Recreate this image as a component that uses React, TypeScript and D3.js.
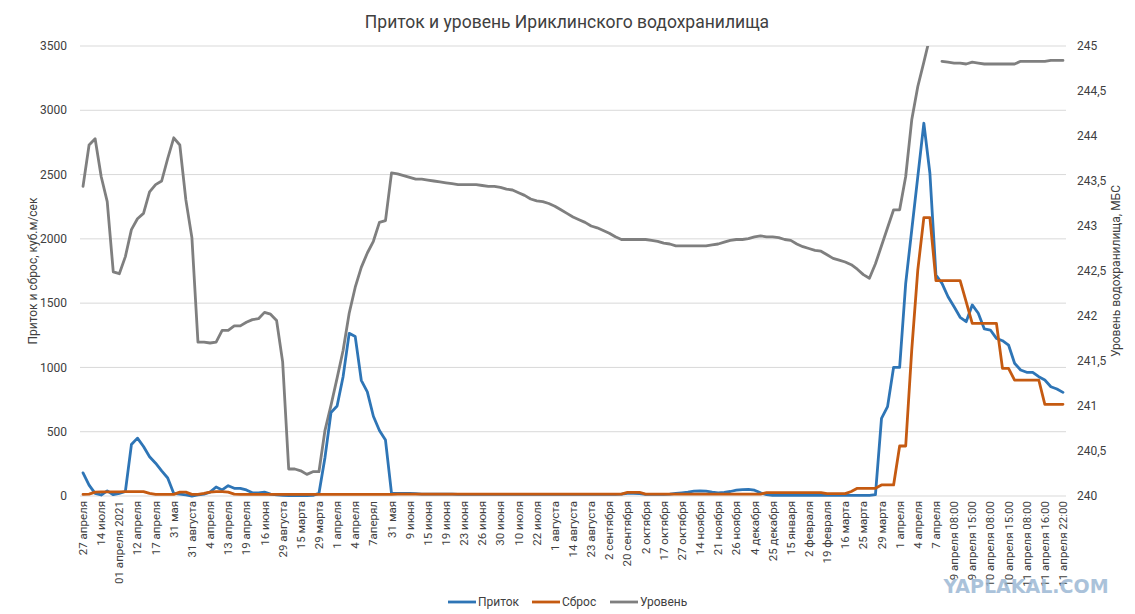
import { useEffect, useRef } from "react";
import * as d3 from "d3";

const title = "Приток и уровень Ириклинского водохранилища";
const leftTitle = "Приток и сброс, куб.м/сек";
const rightTitle = "Уровень водохранилища, МБС";

// one label every third point
const tickLabels = [
  "27 апреля", "14 июля", "01 апреля 2021", "12 апреля", "17 апреля", "31 мая", "31 августа",
  "4 апреля", "13 апреля", "19 апреля", "16 июня", "29 августа", "15 марта", "29 марта",
  "1 апреля", "4 апреля", "7aперял", "31 мая", "9 июня", "15 июня", "19 июня", "23 июня",
  "26 июня", "30 июня", "10 июля", "22 июля", "1 августа", "14 августа", "23 августа",
  "2 сентября", "20 сентября", "2 октября", "17 октября", "27 октября", "14 ноября",
  "21 ноября", "26 ноября", "4 декабря", "25 декабря", "15 января", "2 февраля",
  "19 февраля", "16 марта", "25 марта", "29 марта", "1 апреля", "4 апреля", "7 апреля",
  "9 апреля 08:00", "9 апреля 15:00", "10 апреля 08:00", "10 апреля 15:00",
  "11 апреля 08:00", "11 апреля 16:00", "11 апреля 22:00",
];

// Приток, куб.м/сек
const inflow = [
  180, 85, 20, 8, 40, 10, 20, 35, 400, 450, 385, 305, 255, 195, 140, 20, 15, 8, 0, 8,
  15, 30, 70, 47, 80, 60, 60, 47, 25, 25, 30, 15, 8, 5, 3, 3, 3, 3, 5, 20,
  300, 650, 700, 930, 1265, 1240, 900, 810, 620, 510, 435, 20, 20, 20, 20, 18, 15, 15, 15, 15,
  14, 14, 13, 13, 12, 12, 12, 12, 12, 12, 12, 12, 12, 12, 12, 12, 12, 12, 12, 12,
  12, 12, 12, 12, 12, 12, 12, 12, 12, 15, 20, 20, 18, 12, 12, 12, 12, 15, 20, 25,
  30, 38, 40, 38, 30, 25, 28, 35, 45, 50, 52, 45, 25, 10, 5, 5, 5, 5, 5, 5,
  5, 5, 5, 5, 5, 5, 5, 5, 5, 5, 5, 10, 604, 695, 1001, 1001, 1654, 2069, 2484, 2899,
  2510, 1719, 1654, 1550, 1472, 1390, 1356, 1486, 1421, 1299, 1291, 1226, 1208, 1174, 1032, 980,
  962, 962, 928, 902, 850, 832, 806,
];

// Сброс, куб.м/сек
const discharge = [
  13, 15, 30, 32, 32, 32, 32, 34, 34, 34, 34, 20, 13, 13, 13, 13, 30, 30, 13, 13,
  20, 30, 34, 34, 30, 15, 13, 13, 13, 13, 13, 13, 13, 13, 13, 13, 13, 13, 13, 13,
  13, 13, 13, 13, 13, 13, 13, 13, 13, 13, 13, 13, 15, 15, 15, 15, 15, 15, 15, 15,
  15, 15, 15, 15, 15, 15, 15, 15, 15, 15, 15, 15, 15, 15, 15, 15, 15, 15, 15, 15,
  15, 15, 15, 15, 15, 15, 15, 15, 15, 15, 28, 28, 28, 15, 15, 15, 15, 15, 15, 15,
  15, 15, 15, 15, 15, 15, 15, 15, 15, 15, 15, 15, 15, 26, 26, 26, 26, 26, 26, 26,
  26, 26, 26, 18, 18, 18, 18, 35, 60, 60, 60, 60, 86, 86, 86, 389, 389, 1136, 1758, 2165,
  2165, 1675, 1675, 1675, 1675, 1675, 1510, 1343, 1343, 1343, 1343, 1343, 993, 993, 902, 902,
  902, 902, 902, 713, 713, 713, 713,
];

// Уровень, м БС (null = нет данных)
const level: (number | null)[] = [
  243.44, 243.90, 243.97, 243.55, 243.27, 242.49, 242.47, 242.66, 242.96, 243.08,
  243.14, 243.38, 243.46, 243.50, 243.75, 243.98, 243.90, 243.29, 242.87, 241.71,
  241.71, 241.70, 241.71, 241.84, 241.84, 241.89, 241.89, 241.93, 241.96, 241.97,
  242.04, 242.02, 241.95, 241.49, 240.30, 240.30, 240.28, 240.24, 240.27, 240.27,
  240.73, 241.01, 241.31, 241.62, 242.03, 242.32, 242.54, 242.70, 242.83, 243.04,
  243.06, 243.59, 243.58, 243.56, 243.54, 243.52, 243.52, 243.51, 243.50, 243.49,
  243.48, 243.47, 243.46, 243.46, 243.46, 243.46, 243.45, 243.44, 243.44, 243.43,
  243.41, 243.40, 243.37, 243.34, 243.30, 243.28, 243.27, 243.25, 243.22, 243.18,
  243.14, 243.10, 243.07, 243.04, 243.00, 242.98, 242.95, 242.92, 242.88, 242.85,
  242.85, 242.85, 242.85, 242.85, 242.84, 242.83, 242.81, 242.80, 242.78, 242.78,
  242.78, 242.78, 242.78, 242.78, 242.79, 242.80, 242.82, 242.84, 242.85, 242.85,
  242.86, 242.88, 242.89, 242.88, 242.88, 242.87, 242.85, 242.84, 242.80, 242.77,
  242.75, 242.73, 242.72, 242.68, 242.64, 242.62, 242.60, 242.57, 242.52, 242.46,
  242.42, 242.58, 242.78, 242.98, 243.18, 243.18, 243.55, 244.18, 244.55, 244.82,
  245.10, null, 244.83, 244.82, 244.81, 244.81, 244.80, 244.82, 244.81, 244.80,
  244.80, 244.80, 244.80, 244.80, 244.80, 244.83, 244.83, 244.83, 244.83, 244.83,
  244.84, 244.84, 244.84,
];

const leftTicks = [0, 500, 1000, 1500, 2000, 2500, 3000, 3500];
const rightTicks = [240, 240.5, 241, 241.5, 242, 242.5, 243, 243.5, 244, 244.5, 245];

const series = [
  { name: "Приток", color: "#2e75b6" },
  { name: "Сброс", color: "#c55a11" },
  { name: "Уровень", color: "#7f7f7f" },
];

const W = 1135;
const H = 614;
const FONT = "Roboto, 'Liberation Sans', sans-serif";

function draw(svgEl: SVGSVGElement) {
  const svg = d3.select(svgEl);
  svg.selectAll("*").remove();

  const left = 80, right = 1066, top = 46, bottom = 496;
  const idx = d3.range(inflow.length);

  const x = d3.scaleBand<number>().domain(idx).range([left, right]);
  const cx = (i: number) => x(i)! + x.bandwidth() / 2;
  const yL = d3.scaleLinear().domain([0, 3500]).range([bottom, top]);
  const yR = d3.scaleLinear().domain([240, 245]).range([bottom, top]);

  svg.append("rect").attr("width", W).attr("height", H).attr("fill", "#fff");

  svg.append("text")
    .attr("x", 567).attr("y", 28)
    .attr("text-anchor", "middle")
    .attr("font-family", FONT).attr("font-size", 17.5)
    .attr("fill", "#404040")
    .text(title);

  // gridlines
  svg.append("g").selectAll("line")
    .data(leftTicks).enter().append("line")
    .attr("x1", left).attr("x2", right)
    .attr("y1", d => yL(d)).attr("y2", d => yL(d))
    .attr("stroke", "#d9d9d9").attr("stroke-width", 1);

  svg.append("g").selectAll("text")
    .data(leftTicks).enter().append("text")
    .attr("x", 67).attr("y", d => yL(d)).attr("dy", "0.35em")
    .attr("text-anchor", "end")
    .attr("font-family", FONT).attr("font-size", 12).attr("fill", "#404040")
    .text(d => String(d));

  svg.append("g").selectAll("text")
    .data(rightTicks).enter().append("text")
    .attr("x", 1077).attr("y", d => yR(d)).attr("dy", "0.35em")
    .attr("text-anchor", "start")
    .attr("font-family", FONT).attr("font-size", 12).attr("fill", "#404040")
    .text(d => String(d).replace(".", ","));

  svg.append("text")
    .attr("transform", `translate(33,${(top + bottom) / 2}) rotate(-90)`)
    .attr("text-anchor", "middle").attr("dy", "0.35em")
    .attr("font-family", FONT).attr("font-size", 12).attr("fill", "#404040")
    .text(leftTitle);

  svg.append("text")
    .attr("transform", `translate(1116,${(top + bottom) / 2}) rotate(-90)`)
    .attr("text-anchor", "middle").attr("dy", "0.35em")
    .attr("font-family", FONT).attr("font-size", 12).attr("fill", "#404040")
    .text(rightTitle);

  // category labels
  svg.append("g").selectAll("text")
    .data(tickLabels).enter().append("text")
    .attr("transform", (_, k) => `translate(${cx(k * 3)},${bottom + 5}) rotate(-90)`)
    .attr("text-anchor", "end").attr("dy", "0.35em")
    .attr("font-family", FONT).attr("font-size", 11.5).attr("fill", "#404040")
    .text(d => d);

  svg.append("clipPath").attr("id", "plot-clip")
    .append("rect").attr("x", left - 5).attr("y", top).attr("width", right - left + 10).attr("height", bottom - top + 5);

  const plot = svg.append("g").attr("clip-path", "url(#plot-clip)");

  const lineL = d3.line<number>().x((_, i) => cx(i)).y(d => yL(d));
  const lineR = d3.line<number | null>()
    .defined(d => d !== null)
    .x((_, i) => cx(i)).y(d => yR(d as number));

  plot.append("path").datum(level).attr("d", lineR)
    .attr("fill", "none").attr("stroke", series[2].color).attr("stroke-width", 2.8)
    .attr("stroke-linejoin", "round").attr("stroke-linecap", "round");
  plot.append("path").datum(inflow).attr("d", lineL)
    .attr("fill", "none").attr("stroke", series[0].color).attr("stroke-width", 2.8)
    .attr("stroke-linejoin", "round").attr("stroke-linecap", "round");
  plot.append("path").datum(discharge).attr("d", lineL)
    .attr("fill", "none").attr("stroke", series[1].color).attr("stroke-width", 2.8)
    .attr("stroke-linejoin", "round").attr("stroke-linecap", "round");

  // legend
  const legendX = [448, 532, 610];
  const lg = svg.append("g").selectAll("g")
    .data(series).enter().append("g")
    .attr("transform", (_, i) => `translate(${legendX[i]},602)`);
  lg.append("line").attr("x1", 0).attr("x2", 28)
    .attr("stroke", d => d.color).attr("stroke-width", 2.8);
  lg.append("text").attr("x", 30).attr("dy", "0.35em")
    .attr("font-family", FONT).attr("font-size", 12).attr("fill", "#404040")
    .text(d => d.name);

  // watermark
  svg.append("text")
    .attr("x", 1026).attr("y", 593)
    .attr("text-anchor", "middle")
    .attr("font-family", "'DejaVu Sans', sans-serif").attr("font-weight", "bold")
    .attr("font-size", 19).attr("fill", "#96b4d2").attr("opacity", 0.8)
    .text("YAPLAKAL.COM");
}

export default function App() {
  const svgRef = useRef<SVGSVGElement | null>(null);
  useEffect(() => {
    if (svgRef.current) draw(svgRef.current);
  }, []);
  return (
    <svg
      ref={svgRef}
      width={W}
      height={H}
      style={{ position: "absolute", left: 0, top: 0, display: "block" }}
    />
  );
}
